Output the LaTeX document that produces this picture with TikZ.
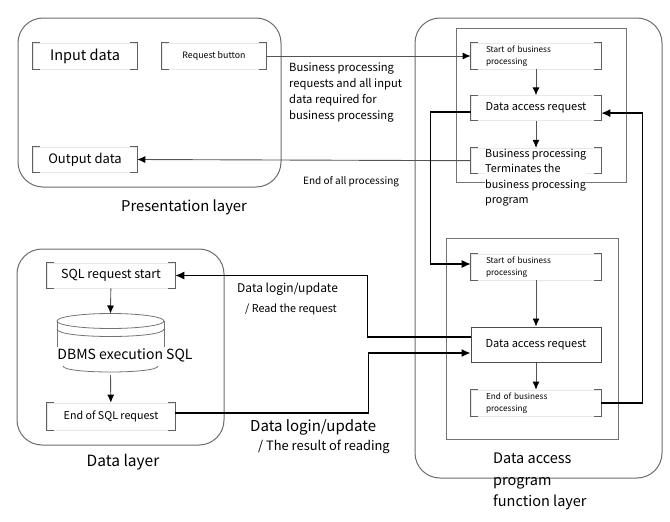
\documentclass[tikz,border=0pt]{standalone}
\usepackage{fontspec}
\setmainfont{Noto Sans CJK JP}
\usetikzlibrary{positioning,arrows.meta}
\newcommand{\fsz}[2]{\fontsize{#1}{#2}\selectfont}
\newcommand{\brackets}[1]{\draw[brk] ([xshift=7pt]#1.north west) -- (#1.north west) -- (#1.south west) -- ([xshift=7pt]#1.south west) ([xshift=-7pt]#1.north east) -- (#1.north east) -- (#1.south east) -- ([xshift=-7pt]#1.south east);}

\begin{document}
\begin{tikzpicture}
[x=1pt,y=-1pt,
tier/.style={draw=gray!85!black,line width=1pt,rounded corners=25pt},
frame/.style={draw=gray!90!black,line width=0.8pt},
box/.style={draw=gray!18,line width=0.6pt,minimum width=104pt,minimum height=26pt,inner sep=0pt},
wbox/.style={box,minimum width=130pt},
brk/.style={draw=gray!75!black,line width=1pt},
txt/.style={inner sep=0pt},
link/.style={draw=gray!65!black,line width=0.9pt,-{Latex[length=8pt,width=7pt,black]}},
trunk/.style={draw=black,line width=1.3pt,-{Latex[length=9pt,width=8pt]}}]
\useasboundingbox (0,0) rectangle (670,522);

\draw[tier] (18,18) rectangle (281,187);
\node[box,font=\fsz{14.5}{18}](inp) at (85,56){Input data};
\node[box,font=\fsz{8.8}{11}](req) at (214,56){Request button};
\node[box,minimum height=25pt,font=\fsz{13}{16}](outp) at (85,159.5){Output data};
\node[txt,font=\fsz{14.8}{18}](pres) at (184,207){Presentation layer};

\draw[tier] (415,18) rectangle (662,478);
\draw[frame] (456,28) rectangle (626,182);
\node[wbox,align=left,text width=100pt,font=\fsz{8.2}{12}](st1) at (536,56){Start of business\\processing};
\node[wbox,minimum height=25pt,font=\fsz{11}{14},below=26pt of st1](dar1){Data access request};
\node[wbox,minimum height=25pt,below=27pt of dar1](bpe){};
\node[txt,fill=white,align=left,anchor=north west,font=\fsz{10.8}{15.5}](bpet) at (485,148.5){Business processing\\Terminates the\\business processing\\program};
\draw[frame] (446,238) rectangle (618,439);
\node[wbox,align=left,text width=100pt,font=\fsz{8.2}{12}](st2) at (536,267){Start of business\\processing};
\node[wbox,draw=gray!60!black,line width=1pt,minimum height=35pt,font=\fsz{11}{14}](dar2) at (536,344.5){Data access request};
\node[wbox,align=left,text width=100pt,font=\fsz{8.2}{12}](end2) at (536,403){End of business\\processing};
\node[txt,align=left,anchor=north west,font=\fsz{14.5}{21.5}](dapl) at (493,453){Data access\\program\\function layer};

\draw[tier] (17,249) rectangle (224,445);
\node[box,minimum width=128pt,minimum height=25pt,font=\fsz{12.5}{15}](sqls) at (111,275.5){SQL request start};
\draw[frame] (110.5,321) ellipse [x radius=53.5pt,y radius=7.5pt];
\draw[frame] (57,329) .. controls (57,339) and (164,339) .. (164,329);
\draw[frame] (57,321) -- (57,350) (164,321) -- (164,350);
\draw[frame] (63,366) .. controls (63,374) and (158,374) .. (158,366);
\node[fill=white,inner sep=2pt,font=\fsz{14}{17}](dbms) at (125,355.5){DBMS execution SQL};
\coordinate (cyltop) at (110.5,313.5);
\coordinate (cylbot) at (110.5,375);
\node[box,minimum width=128pt,minimum height=27pt,font=\fsz{10.7}{13}](sqle) at (111,416.5){End of SQL request};
\node[txt,font=\fsz{15.5}{19}](dl) at (123,462){Data layer};

\foreach \n in {inp,req,outp,st1,dar1,bpe,st2,end2,sqls,sqle} {\brackets{\n}}

\draw[link] (req.east) -- (st1.west);
\draw[link] (bpe.west) -- (outp.east);
\draw[link] (st1) -- (dar1);
\draw[link] (dar1) -- (bpe);
\draw[link] (st2) -- (dar2);
\draw[link] (dar2) -- (end2);
\draw[link] (sqls) -- (cyltop);
\draw[link] (cylbot) -- (sqle);
\draw[trunk] ([yshift=-4pt]dar1.west) -- ++(-40,0) |- ([yshift=3pt]st2.west);
\draw[trunk] (end2.east) -- ++(41,0) |- ([yshift=-5pt]dar1.east);
\draw[trunk] ([yshift=7.5pt]dar2.west) -- ++(-103,0) |- (sqls.east);
\draw[trunk] ([yshift=3.5pt]sqle.east) -- ++(193,0) |- ([yshift=-8.5pt]dar2.west);

\node[txt,align=left,anchor=north west,font=\fsz{11.2}{16}](bpreq) at (289,63){Business processing\\requests and all input\\data required for\\business processing};
\node[txt,anchor=west,font=\fsz{10}{13}](endall) at (303,182){End of all processing};
\node[txt,anchor=west,font=\fsz{12}{15}](dlu1) at (237,289){Data login/update};
\node[txt,anchor=west,font=\fsz{10.8}{13}](rdreq) at (245,309){/ Read the request};
\node[txt,anchor=west,font=\fsz{15}{18}](dlu2) at (250,427){Data login/update};
\node[txt,anchor=west,font=\fsz{12.9}{15}](rdres) at (258,447){/ The result of reading};
\end{tikzpicture}
\end{document}
